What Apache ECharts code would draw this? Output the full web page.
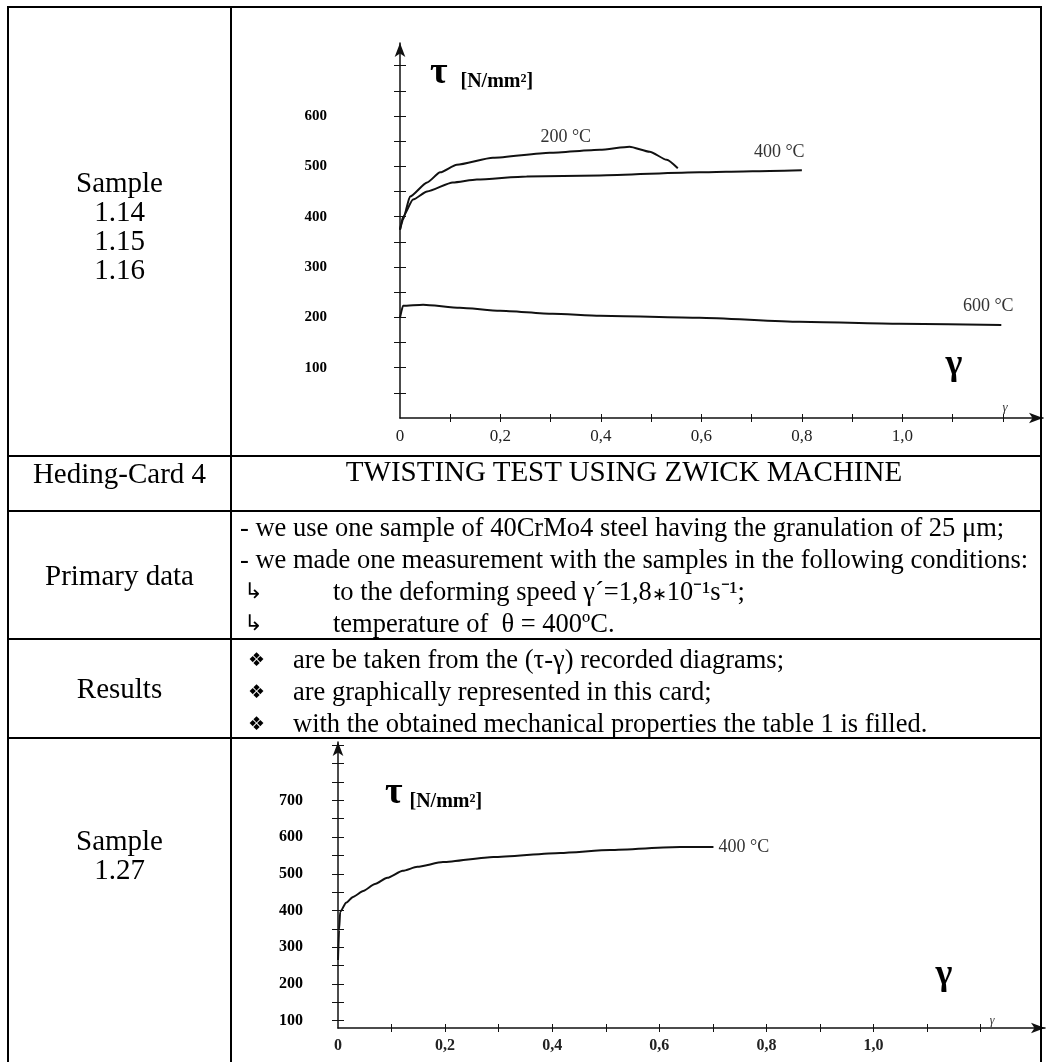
<!DOCTYPE html>
<html>
<head>
<meta charset="utf-8">
<script src="https://cdn.jsdelivr.net/npm/echarts@6/dist/echarts.min.js"></script>
<style>
  html, body { margin: 0; padding: 0; background: #fff; }
  #page { position: relative; width: 1049px; height: 1062px; overflow: hidden;
          font-family: "Liberation Serif", "Times New Roman", serif; color: #000; }
  #chart { position: absolute; left: 0; top: 0; width: 1049px; height: 1062px; }
  .hl { position: absolute; left: 7px; width: 1035px; height: 2px; background: #000; }
  .vl { position: absolute; top: 6px; width: 2px; height: 1060px; background: #000; }
  .t { position: absolute; font-size: 26.5px; line-height: 30px; white-space: nowrap; }
  .big { font-size: 29px; }
  .lc { left: 9px; width: 221px; text-align: center; font-size: 29px; }
  .ln { line-height: 32px; }
  .sym { position: absolute; font-family: "DejaVu Sans", sans-serif; }
</style>
</head>
<body>
<div id="page">
  <div id="chart"></div>

  <!-- table grid -->
  <div class="hl" style="top:6px"></div>
  <div class="hl" style="top:455px"></div>
  <div class="hl" style="top:510px"></div>
  <div class="hl" style="top:638px"></div>
  <div class="hl" style="top:737px"></div>
  <div class="vl" style="left:7px"></div>
  <div class="vl" style="left:230px"></div>
  <div class="vl" style="left:1040px"></div>

  <!-- left column -->
  <div class="t lc" style="top:168px; line-height:29px">Sample<br>1.14<br>1.15<br>1.16</div>
  <div class="t lc" style="top:458px">Heding-Card 4</div>
  <div class="t lc" style="top:560px">Primary data</div>
  <div class="t lc" style="top:673px">Results</div>
  <div class="t lc" style="top:826px; line-height:29px">Sample<br>1.27</div>

  <!-- right column text -->
  <div class="t big" style="top:456px; left:232px; width:784px; text-align:center">TWISTING TEST USING ZWICK MACHINE</div>

  <div class="t ln" style="top:511px; left:240px">- we use one sample of 40CrMo4 steel having the granulation of 25 μm;</div>
  <div class="t ln" style="top:543px; left:240px">- we made one measurement with the samples in the following conditions:</div>
  <div class="t ln" style="top:575px; left:244px"><span class="sym" style="font-size:22px">↳</span></div>
  <div class="t ln" style="top:575px; left:333px">to the deforming speed γ´=1,8<span style="font-size:18px">∗</span>10⁻¹s⁻¹;</div>
  <div class="t ln" style="top:607px; left:244px"><span class="sym" style="font-size:22px">↳</span></div>
  <div class="t ln" style="top:607px; left:333px">temperature of &nbsp;θ = 400ºC.</div>

  <div class="t ln" style="top:643px; left:248px"><span class="sym" style="font-size:19px">❖</span></div>
  <div class="t ln" style="top:643px; left:293px">are be taken from the (τ-γ) recorded diagrams;</div>
  <div class="t ln" style="top:675px; left:248px"><span class="sym" style="font-size:19px">❖</span></div>
  <div class="t ln" style="top:675px; left:293px">are graphically represented in this card;</div>
  <div class="t ln" style="top:707px; left:248px"><span class="sym" style="font-size:19px">❖</span></div>
  <div class="t ln" style="top:707px; left:293px">with the obtained mechanical properties the table 1 is filled.</div>
</div>

<script>
// samples 1.14 / 1.15 / 1.16 (shear strain gamma, shear stress tau in N/mm2)
var gamma200 = [0, 0.006, 0.02, 0.054, 0.08, 0.113, 0.185, 0.298, 0.398, 0.457, 0.497, 0.531, 0.553];
var tau200   = [374, 394, 440, 468, 488, 503, 517, 527, 533, 539, 529, 513, 496];
var gamma400 = [0, 0.006, 0.026, 0.054, 0.105, 0.153, 0.252, 0.398, 0.596, 0.702, 0.80];
var tau400   = [374, 400, 434, 450, 468, 474, 480, 482, 488, 490, 492];
var gamma600 = [0, 0.006, 0.046, 0.119, 0.199, 0.304, 0.398, 0.596, 0.795, 0.994, 1.197];
var tau600   = [199, 223, 225, 219, 213, 207, 203, 199, 191, 187, 185];

// sample 1.27, 400 C
var gamma127 = [0, 0.002, 0.004, 0.015, 0.028, 0.047, 0.069, 0.092, 0.121, 0.148, 0.196, 0.290, 0.415, 0.508, 0.639, 0.701];
var tau127   = [265, 347, 396, 421, 437, 453, 472, 489, 508, 519, 532, 546, 557, 565, 573, 573];

// tick labels
var gammaLabels   = [0, 0.2, 0.4, 0.6, 0.8, 1.0];
var gammaTicks    = [0.1, 0.2, 0.3, 0.4, 0.5, 0.6, 0.7, 0.8, 0.9, 1.0, 1.1, 1.2];
var tauLabelsTop  = [100, 200, 300, 400, 500, 600];
var tauTicksTop   = [50, 100, 150, 200, 250, 300, 350, 400, 450, 500, 550, 600, 650, 700];
var tauLabelsBot  = [100, 200, 300, 400, 500, 600, 700];
var tauTicksBot   = [100, 150, 200, 250, 300, 350, 400, 450, 500, 550, 600, 650, 700, 750, 800, 850];

var serif = '"Liberation Serif", "Times New Roman", serif';
var ink = '#111';

function pairs(xs, ys) {
    return xs.map(function(x, i) { return [x, ys[i]]; });
}

function fmtGamma(v) {
    if (v === 0) return '0';
    return v.toFixed(1).replace('.', ',');
}

function curve(name, xs, ys, grid) {
    return {
        name: name,
        type: 'line',
        xAxisIndex: grid * 2,
        yAxisIndex: grid * 2,
        data: pairs(xs, ys),
        showSymbol: false,
        smooth: 0.2,
        smoothMonotone: 'x',
        silent: true,
        lineStyle: { color: ink, width: 2 }
    };
}

function curveTag(text, coord) {
    return {
        symbol: 'circle',
        symbolSize: 0,
        silent: true,
        label: { show: true, formatter: text, fontFamily: serif, fontSize: 18, color: '#333' },
        data: [{ coord: coord }]
    };
}

// main gamma axis: line, arrow, ticks below, labels and the small "γ" near the arrow
function gammaAxis(grid, max, smallGap, smallLift, smallSize, boldLabels, labelSize) {
    return {
        type: 'value', gridIndex: grid, min: 0, max: max, position: 'bottom',
        axisLine: { onZero: false, lineStyle: { color: ink, width: 1.5 }, symbol: ['none', 'arrow'], symbolSize: [8, 14] },
        axisTick: { customValues: gammaTicks, length: 4, lineStyle: { color: ink } },
        axisLabel: {
            customValues: gammaLabels, formatter: fmtGamma, margin: 10,
            fontFamily: serif, fontSize: labelSize, color: '#222', fontWeight: boldLabels ? 'bold' : 'normal'
        },
        splitLine: { show: false },
        name: 'γ', nameLocation: 'end', nameGap: smallGap,
        nameTextStyle: { fontFamily: serif, fontStyle: 'italic', fontSize: smallSize, color: '#333',
                         align: 'center', verticalAlign: 'bottom', lineHeight: smallLift * 2 }
    };
}

// mirror gamma axis: ticks above the line and the big bold "γ"
function gammaMirror(grid, max, bigGap) {
    return {
        type: 'value', gridIndex: grid, min: 0, max: max, position: 'bottom',
        axisLine: { show: false, onZero: false },
        axisTick: { customValues: gammaTicks, inside: true, length: 4, lineStyle: { color: ink } },
        axisLabel: { show: false },
        splitLine: { show: false },
        name: 'γ', nameLocation: 'end', nameGap: bigGap,
        nameTextStyle: { fontFamily: serif, fontWeight: 'bold', fontSize: 36, color: '#000',
                         align: 'center', verticalAlign: 'bottom', lineHeight: 106 }
    };
}

function tauAxis(grid, min, max, ticks, labels, margin, fontSize, nameGap, namePad, unitGap) {
    return {
        type: 'value', gridIndex: grid, min: min, max: max, position: 'left',
        axisLine: { onZero: false, lineStyle: { color: ink, width: 1.5 }, symbol: ['none', 'arrow'], symbolSize: [8, 14] },
        axisTick: { customValues: ticks, length: 6, lineStyle: { color: ink } },
        axisLabel: { customValues: labels, margin: margin, fontFamily: serif, fontWeight: 'bold', fontSize: fontSize, color: '#000' },
        splitLine: { show: false },
        name: '{t|τ}{u|[N/mm²]}', nameLocation: 'end', nameGap: nameGap,
        nameTextStyle: {
            align: 'left', verticalAlign: 'middle', padding: [0, 0, 0, namePad],
            rich: {
                t: { fontFamily: serif, fontWeight: 'bold', fontSize: 38, color: '#000', padding: [0, unitGap, 0, 0] },
                u: { fontFamily: serif, fontWeight: 'bold', fontSize: 20, color: '#000', verticalAlign: 'bottom' }
            }
        }
    };
}

function tauMirror(grid, min, max, ticks) {
    return {
        type: 'value', gridIndex: grid, min: min, max: max, position: 'left',
        axisLine: { show: false, onZero: false },
        axisTick: { customValues: ticks, inside: true, length: 6, lineStyle: { color: ink } },
        axisLabel: { show: false },
        splitLine: { show: false }
    };
}

var chart = echarts.init(document.getElementById('chart'));

var s200 = curve('200 °C', gamma200, tau200, 0);
s200.markPoint = curveTag('200 °C', [0.33, 557]);
var s400 = curve('400 °C', gamma400, tau400, 0);
s400.markPoint = curveTag('400 °C', [0.755, 527]);
var s600 = curve('600 °C', gamma600, tau600, 0);
s600.markPoint = curveTag('600 °C', [1.171, 221]);
var s127 = curve('400 °C (1.27)', gamma127, tau127, 1);
s127.endLabel = { show: true, formatter: '400 °C', distance: 5, fontFamily: serif, fontSize: 18, color: '#333' };

chart.setOption({
    animation: false,
    backgroundColor: 'transparent',
    grid: [
        { left: 400, top: 43, width: 643, height: 375 },
        { left: 338, top: 742, width: 707, height: 286 }
    ],
    xAxis: [
        gammaAxis(0, 1.28, -38, 10, 13, false, 17),
        gammaMirror(0, 1.28, -89),
        gammaAxis(1, 1.32, -53, 7, 12, true, 16),
        gammaMirror(1, 1.32, -101)
    ],
    yAxis: [
        tauAxis(0, 0, 745, tauTicksTop, tauLabelsTop, 73, 15, -30, 30, 13),
        tauMirror(0, 0, 745, tauTicksTop),
        tauAxis(1, 80, 859, tauTicksBot, tauLabelsBot, 35, 16, -51, 47, 7),
        tauMirror(1, 80, 859, tauTicksBot)
    ],
    series: [s200, s400, s600, s127]
});
</script>
</body>
</html>
